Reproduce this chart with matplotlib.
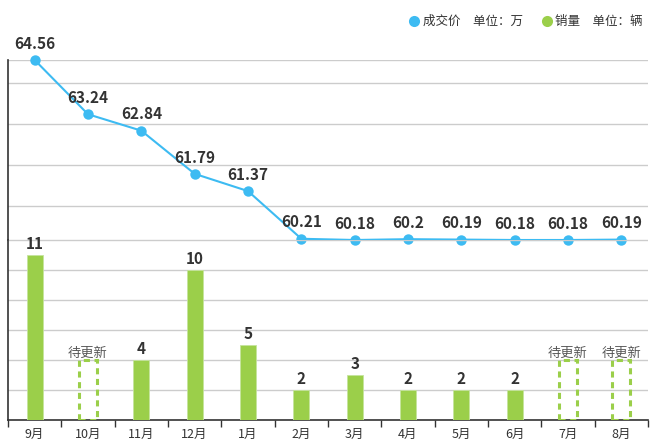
import matplotlib
matplotlib.use("Agg")
import matplotlib.pyplot as plt
from matplotlib.lines import Line2D
from matplotlib.patches import Rectangle

plt.rcParams['font.family'] = ['Noto Sans CJK SC', 'DejaVu Sans']

months = ['9月', '10月', '11月', '12月', '1月', '2月', '3月', '4月', '5月', '6月', '7月', '8月']
price = [64.56, 63.24, 62.84, 61.79, 61.37, 60.21, 60.18, 60.2, 60.19, 60.18, 60.18, 60.19]
sales = [11, None, 4, 10, 5, 2, 3, 2, 2, 2, None, None]
pending_text = '待更新'
pending_height = 4
legend_labels = ['成交价\u3000单位：万', '销量\u3000单位：辆']

BLUE = '#3dbbf2'
GREEN = '#9bcf4a'
GRID = '#cccccc'
DARK = '#333333'

W, H = 660, 447
fig = plt.figure(figsize=(W / 100, H / 100), dpi=100)

left, right = 8, 648
top_y0, mid_y, bot_y = 60, 240, 420
ax_top = fig.add_axes([left / W, (H - mid_y) / H, (right - left) / W, (mid_y - top_y0) / H])
ax_bot = fig.add_axes([left / W, (H - bot_y) / H, (right - left) / W, (bot_y - mid_y) / H])

n = len(months)
xs = list(range(n))

for ax in (ax_top, ax_bot):
    ax.set_xlim(-0.5, n - 0.5)
    ax.set_facecolor('none')
    for s in ('top', 'right'):
        ax.spines[s].set_visible(False)
    ax.spines['left'].set_color(DARK)
    ax.spines['left'].set_linewidth(1.2)
    ax.tick_params(axis='y', length=0, labelleft=False)
    ax.set_axisbelow(True)

# ---- top: price line ----
pmin, pmax = min(price), max(price)
ax_top.set_ylim(pmin, pmax)
ax_top.set_yticks([pmin, 61, 62, 63, 64, pmax])
ax_top.yaxis.grid(True, color=GRID, linewidth=1)
ax_top.spines['bottom'].set_visible(False)
ax_top.set_xticks([])
ax_top.plot(xs, price, color=BLUE, linewidth=1.5, marker='o', markersize=7.5,
            markeredgewidth=0, clip_on=False, zorder=3)
for x, v in zip(xs, price):
    ax_top.annotate('{:g}'.format(v), (x, v), xytext=(0, 6), textcoords='offset points',
                    ha='center', va='bottom', fontsize=11, fontweight='bold', color=DARK,
                    annotation_clip=False)

# ---- bottom: sales bars ----
ax_bot.set_ylim(0, 12)
ax_bot.set_yticks(range(0, 13, 2))
ax_bot.yaxis.grid(True, color=GRID, linewidth=1)
ax_bot.spines['bottom'].set_color(DARK)
ax_bot.spines['bottom'].set_linewidth(1.2)
ax_bot.set_xticks([i + 0.5 for i in range(-1, n)], minor=False)
ax_bot.set_xticklabels([])
ax_bot.tick_params(axis='x', which='major', length=5, width=1, color=DARK, direction='out')
ax_bot.set_xticks(xs, minor=True)
ax_bot.set_xticklabels(months, minor=True)
ax_bot.tick_params(axis='x', which='minor', length=0, pad=6, labelsize=9, labelcolor=DARK)

for x, v in zip(xs, sales):
    if v is None:
        w = 0.34
        ax_bot.add_patch(Rectangle((x - w / 2, 0), w, pending_height, fill=False,
                                   edgecolor=GREEN, linewidth=2.2, linestyle=(0, (2, 1.5)),
                                   zorder=3))
        ax_bot.annotate(pending_text, (x, pending_height), xytext=(0, 0),
                        textcoords='offset points', ha='center', va='bottom',
                        fontsize=9.5, color='#555555')
    else:
        ax_bot.bar(x, v, width=0.3, color=GREEN, edgecolor='#c5e49e', linewidth=0.6, zorder=3)
        ax_bot.annotate(str(v), (x, v), xytext=(0, 2), textcoords='offset points',
                        ha='center', va='bottom', fontsize=11, fontweight='bold', color=DARK)

# ---- legend ----
handles = [
    Line2D([], [], linestyle='none', marker='o', markersize=8, color=BLUE, markeredgewidth=0),
    Line2D([], [], linestyle='none', marker='o', markersize=8, color=GREEN, markeredgewidth=0),
]
fig.legend(handles, legend_labels, loc='upper right',
           bbox_to_anchor=(654 / W, 1 - 4 / H), ncol=2, frameon=False, fontsize=9,
           handlelength=0.8, handletextpad=0.3, columnspacing=1.5, labelcolor=DARK)

fig.savefig('out.png', dpi=100)
